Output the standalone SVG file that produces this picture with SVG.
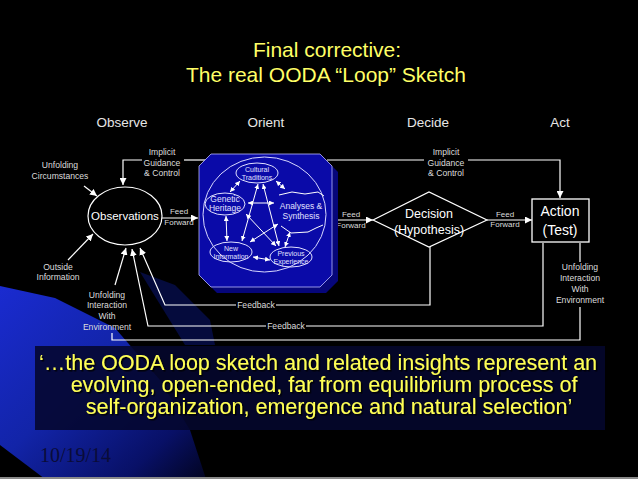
<svg xmlns="http://www.w3.org/2000/svg" width="638" height="479" viewBox="0 0 638 479">
<defs>
<linearGradient id="bgBlue" x1="0" y1="0" x2="1" y2="1">
<stop offset="0" stop-color="#1a2bd0"/>
<stop offset="0.45" stop-color="#1224a8"/>
<stop offset="0.8" stop-color="#081066"/>
<stop offset="1" stop-color="#020420"/>
</linearGradient>
<filter id="shadow" x="-5%" y="-20%" width="110%" height="140%">
<feDropShadow dx="1.5" dy="1.5" stdDeviation="0.5" flood-color="#000000" flood-opacity="0.9"/>
</filter>
<marker id="ah" viewBox="0 0 8 8" refX="8" refY="4" markerWidth="7" markerHeight="7" markerUnits="userSpaceOnUse" orient="auto">
<path d="M0,0 L8,4 L0,8 z" fill="#ffffff"/>
</marker>
<marker id="ahs" viewBox="0 0 8 8" refX="8" refY="4" markerWidth="5" markerHeight="5" markerUnits="userSpaceOnUse" orient="auto-start-reverse">
<path d="M0,0 L8,4 L0,8 z" fill="#ffffff"/>
</marker>
<style>
text{font-family:"Liberation Sans",Arial,sans-serif;}
.title{fill:#ffff66;font-size:21px;text-anchor:middle;}
.col{fill:#e6e6e6;font-size:13.5px;text-anchor:middle;}
.lbl{fill:#dcdcdc;font-size:8.6px;text-anchor:middle;}
.ff{fill:#dcdcdc;font-size:8px;text-anchor:middle;}
.tiny{fill:#e0e0ff;font-size:7px;text-anchor:middle;}
.mid{fill:#e0e0ff;font-size:8.5px;text-anchor:middle;}
.node{fill:#ffffff;text-anchor:middle;}
.ln{stroke:#ffffff;stroke-width:1.2;fill:none;}
.il{stroke:#ffffff;stroke-width:1;fill:none;}
.quote{fill:#ffff55;font-size:21.5px;text-anchor:middle;filter:url(#shadow);}
.date{font-family:"Liberation Serif","Times New Roman",serif;font-size:20px;fill:#0a0c38;}
</style>
</defs>

<!-- background -->
<rect x="0" y="0" width="638" height="479" fill="#000000"/>
<polygon points="0,286 55,298 115,328 160,380 190,430 206,479 45,479 0,445" fill="url(#bgBlue)"/>
<polygon points="140,272 175,285 210,320 215,345 185,345" fill="#0a1470" opacity="0.55"/>
<rect x="35" y="346" width="570" height="84" fill="#05072e" opacity="0.88"/>
<rect x="0" y="477" width="638" height="2" fill="#8a8a8a"/>
<text class="date" x="40" y="462">10/19/14</text>

<!-- title -->
<text class="title" x="327" y="57">Final corrective:</text>
<text class="title" x="326" y="82">The real OODA “Loop” Sketch</text>

<!-- column headers -->
<text class="col" x="122" y="127">Observe</text>
<text class="col" x="266" y="127">Orient</text>
<text class="col" x="428" y="127">Decide</text>
<text class="col" x="560" y="127">Act</text>

<!-- connectors -->
<g id="connectors">
<polyline class="ln" points="206,160 184,160"/>
<polyline class="ln" points="142,160 123,160 123,185" marker-end="url(#ah)"/>
<polyline class="ln" points="327,160 424,160"/>
<polyline class="ln" points="468,160 560,160 560,198" marker-end="url(#ah)"/>
<line class="ln" x1="84" y1="186" x2="97" y2="196" marker-end="url(#ah)"/>
<line class="ln" x1="68" y1="260" x2="93" y2="234" marker-end="url(#ah)"/>
<line class="ln" x1="115" y1="285" x2="126" y2="248" marker-end="url(#ah)"/>
<polyline class="ln" points="112,333 112,340 580,340 580,307"/>
<line class="ln" x1="580" y1="243" x2="580" y2="262"/>
<line class="ln" x1="162" y1="218" x2="198" y2="218" marker-end="url(#ah)"/>
<line class="ln" x1="333" y1="220" x2="373" y2="220" marker-end="url(#ah)"/>
<line class="ln" x1="487" y1="220" x2="532" y2="220" marker-end="url(#ah)"/>
<polyline class="ln" points="430,247 430,305 276,305"/>
<polyline class="ln" points="236,305 165,305 140,248" marker-end="url(#ah)"/>
<polyline class="ln" points="543,243 543,326 306,326"/>
<polyline class="ln" points="266,326 148,326 132,249" marker-end="url(#ah)"/>
</g>

<!-- connector labels -->
<g id="labels">
<text class="lbl" x="162" y="155">Implicit</text>
<text class="lbl" x="162" y="166">Guidance</text>
<text class="lbl" x="162" y="176">&amp; Control</text>
<text class="lbl" x="446" y="155">Implicit</text>
<text class="lbl" x="446" y="166">Guidance</text>
<text class="lbl" x="446" y="176">&amp; Control</text>
<text class="lbl" x="60" y="168">Unfolding</text>
<text class="lbl" x="60" y="179">Circumstances</text>
<text class="lbl" x="58" y="270">Outside</text>
<text class="lbl" x="58" y="280">Information</text>
<text class="lbl" x="107" y="298">Unfolding</text>
<text class="lbl" x="107" y="308">Interaction</text>
<text class="lbl" x="107" y="319">With</text>
<text class="lbl" x="107" y="330">Environment</text>
<text class="lbl" x="580" y="270">Unfolding</text>
<text class="lbl" x="580" y="281">Interaction</text>
<text class="lbl" x="580" y="292">With</text>
<text class="lbl" x="580" y="303">Environment</text>
<text class="ff" x="179" y="214">Feed</text>
<text class="ff" x="179" y="225">Forward</text>
<text class="ff" x="351" y="217">Feed</text>
<text class="ff" x="351" y="228">Forward</text>
<text class="ff" x="505" y="217">Feed</text>
<text class="ff" x="505" y="227">Forward</text>
<text class="lbl" x="256" y="308">Feedback</text>
<text class="lbl" x="286" y="329">Feedback</text>
</g>

<g id="observations">
<ellipse cx="125" cy="216" rx="37" ry="29" fill="none" stroke="#ffffff" stroke-width="1.2"/>
<text class="node" x="125" y="220" font-size="11.5">Observations</text>
</g>

<g id="orient">
<polygon points="217,160 326,160 338,172 338,281 326,293 217,293 205,281 205,172" fill="#06067a"/>
<polygon points="211,154 320,154 332,166 332,275 320,287 211,287 199,275 199,166" fill="#0a0aa8" stroke="#b8b8ff" stroke-width="0.8"/>
<ellipse cx="264.5" cy="214.5" rx="61.5" ry="57.5" fill="none" stroke="#d8d8ff" stroke-width="1"/>
<g id="cultural">
<ellipse cx="257" cy="173" rx="21" ry="10" fill="none" stroke="#e0e0ff" stroke-width="1"/>
<text class="tiny" x="257" y="172">Cultural</text>
<text class="tiny" x="257" y="180">Traditions</text>
</g>
<g id="genetic">
<ellipse cx="225" cy="204" rx="20" ry="11" fill="none" stroke="#e0e0ff" stroke-width="1"/>
<text class="mid" x="225" y="202">Genetic</text>
<text class="mid" x="225" y="211">Heritage</text>
</g>
<g id="analyses">
<path class="il" d="M279,195 L292,192 L305,194 L318,192 L324,196" stroke="#e0e0ff"/>
<text class="mid" x="301" y="209">Analyses &amp;</text>
<text class="mid" x="301" y="219">Synthesis</text>
<path class="il" d="M281,226 L291,233 L308,232 L316,228 L323,225" stroke="#e0e0ff"/>
</g>
<g id="newinfo">
<ellipse cx="231" cy="252" rx="21" ry="10" fill="none" stroke="#e0e0ff" stroke-width="1"/>
<text class="tiny" x="231" y="251">New</text>
<text class="tiny" x="231" y="259">Information</text>
</g>
<g id="previous">
<ellipse cx="291" cy="257" rx="21" ry="10" fill="none" stroke="#e0e0ff" stroke-width="1"/>
<text class="tiny" x="291" y="256">Previous</text>
<text class="tiny" x="291" y="264">Experience</text>
</g>
<g id="orient-links">
<line class="il" x1="240" y1="181" x2="230" y2="192" marker-start="url(#ahs)" marker-end="url(#ahs)"/>
<line class="il" x1="276" y1="181" x2="285" y2="189" marker-start="url(#ahs)" marker-end="url(#ahs)"/>
<line class="il" x1="248" y1="203" x2="274" y2="203" marker-start="url(#ahs)" marker-end="url(#ahs)"/>
<line class="il" x1="226" y1="216" x2="227" y2="241" marker-start="url(#ahs)" marker-end="url(#ahs)"/>
<line class="il" x1="253" y1="257" x2="270" y2="260" marker-start="url(#ahs)" marker-end="url(#ahs)"/>
<line class="il" x1="285" y1="247" x2="290" y2="232" marker-start="url(#ahs)" marker-end="url(#ahs)"/>
<line class="il" x1="258" y1="184" x2="242" y2="241" marker-start="url(#ahs)" marker-end="url(#ahs)"/>
<line class="il" x1="263" y1="184" x2="279" y2="246" marker-start="url(#ahs)" marker-end="url(#ahs)"/>
<line class="il" x1="246" y1="214" x2="276" y2="246" marker-start="url(#ahs)" marker-end="url(#ahs)"/>
<line class="il" x1="278" y1="224" x2="250" y2="242" marker-start="url(#ahs)" marker-end="url(#ahs)"/>
</g>
</g>

<g id="decision">
<polygon points="373,220 429,192 487,220 429,247" fill="none" stroke="#ffffff" stroke-width="1.2"/>
<text class="node" x="429" y="218" font-size="12.5">Decision</text>
<text class="node" x="429" y="234" font-size="12.5">(Hypothesis)</text>
</g>

<g id="action">
<rect x="532" y="199" width="57" height="43" fill="none" stroke="#ffffff" stroke-width="1.3"/>
<text class="node" x="560" y="216" font-size="14">Action</text>
<text class="node" x="560" y="235" font-size="14">(Test)</text>
</g>

<g id="quote">
<text class="quote" x="318" y="370">‘…the OODA loop sketch and related insights represent an</text>
<text class="quote" x="324" y="392">evolving, open-ended, far from equilibrium process of</text>
<text class="quote" x="329" y="414">self-organization, emergence and natural selection’</text>
</g>
</svg>
